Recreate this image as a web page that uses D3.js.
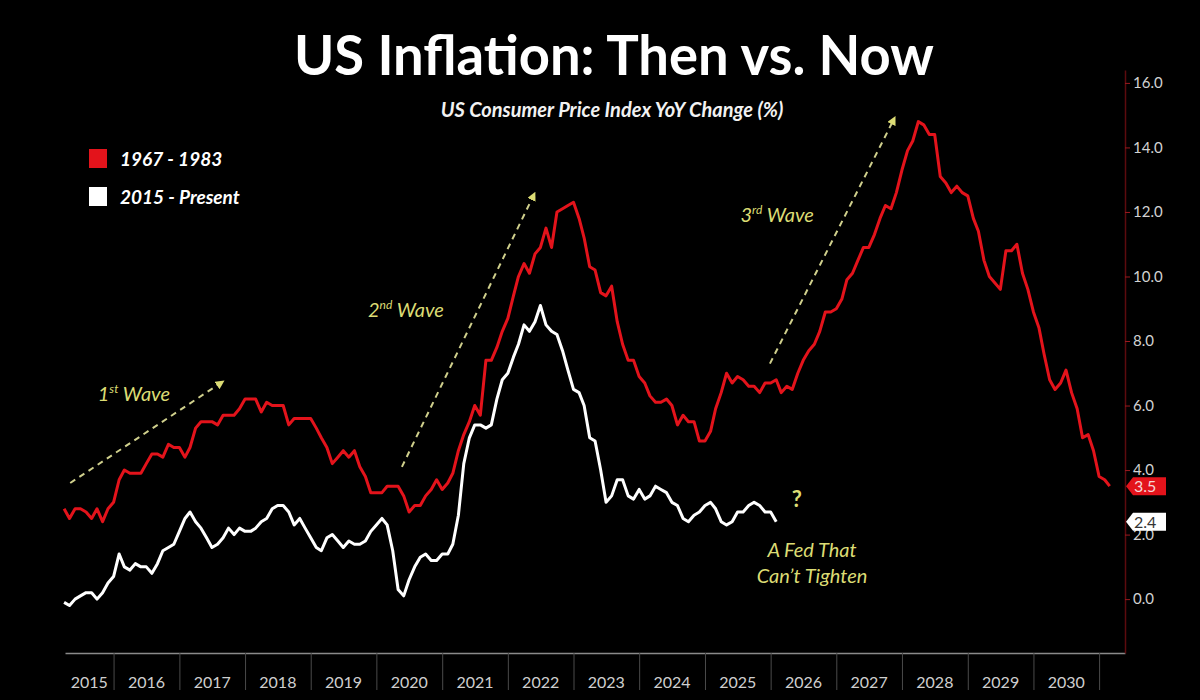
<!DOCTYPE html>
<html>
<head>
<meta charset="utf-8">
<title>US Inflation: Then vs. Now</title>
<script src="https://cdn.jsdelivr.net/npm/d3@7/dist/d3.min.js"></script>
<style>
  body { margin: 0; background: #000; }
  svg { display: block; font-family: Lato, "Open Sans", sans-serif; }
</style>
</head>
<body>
<div id="chart-area"></div>
<script>
// US CPI YoY change (%), monthly
// "then" starts Mar 1967 and is drawn 48 years forward so it lines up with "now"
var thenStart = [1967, 2];
var thenShift = 48;
var thenValues = [
  2.8, 2.5, 2.8, 2.8, 2.7, 2.5, 2.8, 2.4, 2.8, 3.0,                 // 1967
  3.7, 4.0, 3.9, 3.9, 3.9, 4.2, 4.5, 4.5, 4.4, 4.8, 4.7, 4.7,       // 1968
  4.4, 4.7, 5.3, 5.5, 5.5, 5.5, 5.4, 5.7, 5.7, 5.7, 5.9, 6.2,       // 1969
  6.2, 6.2, 5.8, 6.1, 6.0, 6.0, 6.0, 5.4, 5.6, 5.6, 5.6, 5.6,       // 1970
  5.3, 5.0, 4.7, 4.2, 4.4, 4.6, 4.4, 4.6, 4.1, 3.8, 3.3, 3.3,       // 1971
  3.3, 3.5, 3.5, 3.5, 3.2, 2.7, 2.9, 2.9, 3.2, 3.4, 3.7, 3.4,       // 1972
  3.6, 3.9, 4.6, 5.1, 5.5, 6.0, 5.7, 7.4, 7.4, 7.8, 8.3, 8.7,       // 1973
  9.4, 10.0, 10.4, 10.1, 10.7, 10.9, 11.5, 10.9, 12.0, 12.1, 12.2, 12.3, // 1974
  11.8, 11.2, 10.3, 10.2, 9.5, 9.4, 9.7, 8.6, 7.9, 7.4, 7.4, 6.9,   // 1975
  6.7, 6.3, 6.1, 6.1, 6.2, 6.0, 5.4, 5.7, 5.5, 5.5, 4.9, 4.9,       // 1976
  5.2, 5.9, 6.4, 7.0, 6.7, 6.9, 6.8, 6.6, 6.6, 6.4, 6.7, 6.7,       // 1977
  6.8, 6.4, 6.6, 6.5, 7.0, 7.4, 7.7, 7.9, 8.3, 8.9, 8.9, 9.0,       // 1978
  9.3, 9.9, 10.1, 10.5, 10.9, 10.9, 11.3, 11.8, 12.2, 12.1, 12.6, 13.3, // 1979
  13.9, 14.2, 14.8, 14.7, 14.4, 14.4, 13.1, 12.9, 12.6, 12.8, 12.6, 12.5, // 1980
  11.8, 11.4, 10.5, 10.0, 9.8, 9.6, 10.8, 10.8, 11.0, 10.1, 9.6, 8.9, // 1981
  8.4, 7.6, 6.8, 6.5, 6.7, 7.1, 6.4, 5.9, 5.0, 5.1, 4.6, 3.8,       // 1982
  3.7, 3.5                                                          // 1983
];

var nowStart = [2015, 2];
var nowValues = [
  -0.1, -0.2, 0.0, 0.1, 0.2, 0.2, 0.0, 0.2, 0.5, 0.7,               // 2015
  1.4, 1.0, 0.9, 1.1, 1.0, 1.0, 0.8, 1.1, 1.5, 1.6, 1.7, 2.1,       // 2016
  2.5, 2.7, 2.4, 2.2, 1.9, 1.6, 1.7, 1.9, 2.2, 2.0, 2.2, 2.1,       // 2017
  2.1, 2.2, 2.4, 2.5, 2.8, 2.9, 2.9, 2.7, 2.3, 2.5, 2.2, 1.9,       // 2018
  1.6, 1.5, 1.9, 2.0, 1.8, 1.6, 1.8, 1.7, 1.7, 1.8, 2.1, 2.3,       // 2019
  2.5, 2.3, 1.5, 0.3, 0.1, 0.6, 1.0, 1.3, 1.4, 1.2, 1.2, 1.4,       // 2020
  1.4, 1.7, 2.6, 4.2, 5.0, 5.4, 5.4, 5.3, 5.4, 6.2, 6.8, 7.0,       // 2021
  7.5, 7.9, 8.5, 8.3, 8.6, 9.1, 8.5, 8.3, 8.2, 7.7, 7.1, 6.5,       // 2022
  6.4, 6.0, 5.0, 4.9, 4.0, 3.0, 3.2, 3.7, 3.7, 3.2, 3.1, 3.4,       // 2023
  3.1, 3.2, 3.5, 3.4, 3.3, 3.0, 2.9, 2.5, 2.4, 2.6, 2.7, 2.9,       // 2024
  3.0, 2.8, 2.4, 2.3, 2.4, 2.7, 2.7, 2.9, 3.0, 2.9, 2.7, 2.7,       // 2025
  2.4                                                               // 2026
];

var yTicks = [0, 2, 4, 6, 8, 10, 12, 14, 16];
var yearLabels = [2015, 2016, 2017, 2018, 2019, 2020, 2021, 2022,
                  2023, 2024, 2025, 2026, 2027, 2028, 2029, 2030];
var legendLabels = ["1967 - 1983", "2015 - Present"];

// annotations in chart units: decimal year, CPI value
var waveArrows = [
  { from: [2015.34, 3.6], to: [2017.63, 6.7] },
  { from: [2020.39, 4.1], to: [2022.39, 12.5] },
  { from: [2025.99, 7.3], to: [2027.87, 14.85] }
];
var waveLabels = [
  { at: [2015.76, 6.15], num: "1", sup: "st" },
  { at: [2019.87, 8.75], num: "2", sup: "nd" },
  { at: [2025.54, 11.7], num: "3", sup: "rd" }
];

var RED = "#e3131b",
    YELLOW = "#dcdc74";

var width = 1200, height = 700;
var margin = { left: 65, right: 75, top: 70, bottom: 47 };

var svg = d3.select("#chart-area")
    .append("svg")
        .attr("width", width)
        .attr("height", height);

svg.append("rect")
    .attr("width", width)
    .attr("height", height)
    .attr("fill", "#000");

function toPoints(start, shift, values) {
    return values.map(function(v, i) {
        // plotted at month end
        return { date: new Date(start[0] + shift, start[1] + i + 1, 1), value: v };
    });
}
function yearDate(yr) {
    var y0 = Math.floor(yr);
    return new Date(y0, 0, 1 + Math.round((yr - y0) * 365));
}

var thenData = toPoints(thenStart, thenShift, thenValues);
var nowData = toPoints(nowStart, 0, nowValues);

var x = d3.scaleTime()
    .domain([new Date(2015, 3, 6), new Date(2031, 4, 25)])
    .range([margin.left, width - margin.right]);

var y = d3.scaleLinear()
    .domain([-1.67, 16.4])
    .range([height - margin.bottom, margin.top]);

// Title
svg.append("text")
    .attr("x", 614)
    .attr("y", 75)
    .attr("text-anchor", "middle")
    .attr("font-size", "55px")
    .attr("font-weight", "bold")
    .attr("fill", "#fff")
    .attr("textLength", 640)
    .attr("lengthAdjust", "spacingAndGlyphs")
    .text("US Inflation: Then vs. Now");

svg.append("text")
    .attr("x", 612)
    .attr("y", 117)
    .attr("text-anchor", "middle")
    .attr("font-size", "20px")
    .attr("font-style", "italic")
    .attr("font-weight", "bold")
    .attr("fill", "#f2f2f2")
    .text("US Consumer Price Index YoY Change (%)");

// X-Axis (year separators)
var yearTicks = d3.range(2016, 2032).map(function(yr) { return new Date(yr, 0, 1); });
var xAxisCall = d3.axisBottom(x)
    .tickValues(yearTicks)
    .tickSize(37)
    .tickSizeOuter(0)
    .tickFormat("");
var xAxis = svg.append("g")
    .attr("class", "x-axis")
    .attr("transform", "translate(0, " + (height - margin.bottom) + ")")
    .call(xAxisCall);
xAxis.select(".domain").attr("stroke", "#8a8a8a").attr("stroke-width", 1.5);
xAxis.selectAll(".tick line").attr("stroke", "#4a4a4a");

svg.append("g")
    .selectAll("text")
    .data(yearLabels)
    .enter()
    .append("text")
        .attr("x", function(d) {
            var a = Math.max(x(new Date(d, 0, 1)), x.range()[0]);
            return (a + x(new Date(d + 1, 0, 1))) / 2;
        })
        .attr("y", height - 12)
        .attr("text-anchor", "middle")
        .attr("font-size", "16px")
        .attr("fill", "#cfcfcf")
        .text(function(d) { return d; });

// Y-Axis (right)
var yAxisCall = d3.axisRight(y)
    .tickValues(yTicks)
    .tickSize(5)
    .tickSizeOuter(0)
    .tickFormat(d3.format(".1f"));
var yAxis = svg.append("g")
    .attr("class", "y-axis")
    .attr("transform", "translate(" + (width - margin.right) + ", 0)")
    .call(yAxisCall);
yAxis.select(".domain").attr("stroke", "#5c0b0e").attr("stroke-width", 1.5);
yAxis.selectAll(".tick line").attr("stroke", "#9b1a1f");
yAxis.selectAll(".tick text")
    .attr("fill", "#d2d2d2")
    .attr("font-size", "15px")
    .attr("font-family", "Lato, sans-serif");

// Lines
var line = d3.line()
    .x(function(d) { return x(d.date); })
    .y(function(d) { return y(d.value); });

svg.append("path")
    .datum(thenData)
    .attr("fill", "none")
    .attr("stroke", RED)
    .attr("stroke-width", 3)
    .attr("stroke-linejoin", "round")
    .attr("d", line);

svg.append("path")
    .datum(nowData)
    .attr("fill", "none")
    .attr("stroke", "#fff")
    .attr("stroke-width", 3)
    .attr("stroke-linejoin", "round")
    .attr("d", line);

// Last value tags on the axis
var tags = [
    { value: thenValues[thenValues.length - 1], fill: RED, text: "#f6d6d6" },
    { value: nowValues[nowValues.length - 1], fill: "#fff", text: "#333" }
];
var ax = width - margin.right + 1;
var tag = svg.append("g").selectAll("g")
    .data(tags)
    .enter()
    .append("g")
        .attr("transform", function(d) { return "translate(" + ax + "," + y(d.value) + ")"; });
tag.append("path")
    .attr("d", "M0,0 L7,-9 L40,-9 L40,9 L7,9 Z")
    .attr("fill", function(d) { return d.fill; });
tag.append("text")
    .attr("x", 8)
    .attr("y", 6)
    .attr("font-size", "16px")
    .attr("fill", function(d) { return d.text; })
    .text(function(d) { return d3.format(".1f")(d.value); });

// Legend
var legend = svg.append("g")
    .attr("transform", "translate(89, 149)");
var legendRow = legend.selectAll("g")
    .data(legendLabels)
    .enter()
    .append("g")
        .attr("transform", function(d, i) { return "translate(0," + (i * 38) + ")"; });
legendRow.append("rect")
    .attr("width", 18)
    .attr("height", 19)
    .attr("fill", function(d, i) { return i === 0 ? RED : "#fff"; });
legendRow.append("text")
    .attr("x", 31)
    .attr("y", 17)
    .attr("font-size", "19px")
    .attr("font-style", "italic")
    .attr("font-weight", "bold")
    .attr("fill", "#fff")
    .text(function(d) { return d; });

// Wave arrows
svg.append("defs").append("marker")
    .attr("id", "head")
    .attr("viewBox", "0 0 10 10")
    .attr("refX", 5)
    .attr("refY", 5)
    .attr("markerWidth", 4.5)
    .attr("markerHeight", 4.5)
    .attr("orient", "auto")
    .append("path")
        .attr("d", "M0,0 L10,5 L0,10 Z")
        .attr("fill", YELLOW);

svg.append("g")
    .selectAll("line")
    .data(waveArrows)
    .enter()
    .append("line")
        .attr("x1", function(d) { return x(yearDate(d.from[0])); })
        .attr("y1", function(d) { return y(d.from[1]); })
        .attr("x2", function(d) { return x(yearDate(d.to[0])); })
        .attr("y2", function(d) { return y(d.to[1]); })
        .attr("stroke", "#cfcf8c")
        .attr("stroke-width", 2)
        .attr("stroke-dasharray", "6,5")
        .attr("marker-end", "url(#head)");

var wave = svg.append("g")
    .selectAll("text")
    .data(waveLabels)
    .enter()
    .append("text")
        .attr("x", function(d) { return x(yearDate(d.at[0])); })
        .attr("y", function(d) { return y(d.at[1]); })
        .attr("font-size", "20px")
        .attr("font-style", "italic")
        .attr("fill", YELLOW);
wave.append("tspan").text(function(d) { return d.num; });
wave.append("tspan")
    .attr("font-size", "12px")
    .attr("dy", -8)
    .text(function(d) { return d.sup; });
wave.append("tspan")
    .attr("dy", 8)
    .text(" Wave");

// Question mark and note
svg.append("text")
    .attr("x", x(yearDate(2026.40)))
    .attr("y", y(2.85))
    .attr("text-anchor", "middle")
    .attr("font-size", "22px")
    .attr("font-weight", "bold")
    .attr("fill", YELLOW)
    .text("?");

svg.append("text")
    .attr("x", x(yearDate(2026.63)))
    .attr("y", y(1.3))
    .attr("text-anchor", "middle")
    .attr("font-size", "20px")
    .attr("font-style", "italic")
    .attr("fill", YELLOW)
    .text("A Fed That");
svg.append("text")
    .attr("x", x(yearDate(2026.63)))
    .attr("y", y(0.5))
    .attr("text-anchor", "middle")
    .attr("font-size", "20px")
    .attr("font-style", "italic")
    .attr("fill", YELLOW)
    .text("Can\u2019t Tighten");
</script>
</body>
</html>
